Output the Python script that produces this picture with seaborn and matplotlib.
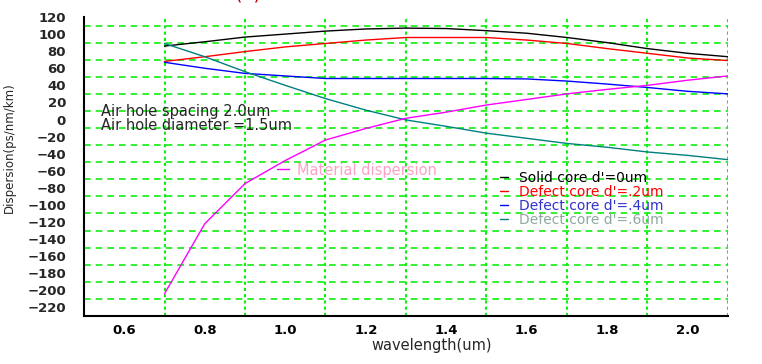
import numpy as np
import pandas as pd
import matplotlib
matplotlib.use("Agg")
import matplotlib.pyplot as plt
import seaborn as sns
from matplotlib.lines import Line2D

wavelength = [0.7, 0.8, 0.9, 1.0, 1.1, 1.2, 1.3, 1.4, 1.5, 1.6, 1.7, 1.8, 1.9, 2.0, 2.1]
solid_core = [86, 91, 96.5, 100, 103.5, 106, 107, 106.5, 104, 101, 96, 90, 83, 77.5, 73.5]
defect_02 = [68, 73.5, 79.5, 85, 89, 93, 96, 96, 96, 93, 89, 83, 77.5, 72, 69]
defect_04 = [67, 60, 54, 51, 48, 48, 48, 48, 48, 47.5, 45, 41.5, 37.5, 33, 30]
defect_06 = [89, 73.5, 56, 40, 24.5, 11, -0.5, -8, -16, -22, -28, -32.5, -38, -42, -47]
material = [-204, -122, -75, -48, -24, -10.5, 1.5, 8.6, 17, 23.5, 30, 35.3, 40, 46, 51]

series_labels = ["Solid core d'=0um", "Defect core d'=.2um", "Defect core d'=.4um", "Defect core d'=.6um"]
series_values = [solid_core, defect_02, defect_04, defect_06]
line_colors = ["#000000", "#ff0000", "#0000ff", "#008080"]
text_colors = ["#000000", "#ff0000", "#3333cc", "#90a8a0"]

sns.set_style("white")
plt.rcParams['font.family'] = ['DejaVu Sans']

fig = plt.figure(figsize=(7.62, 3.64), dpi=100)
ax = fig.add_axes([84 / 762, 48 / 364, 644 / 762, 299 / 364])

for lab, vals, col in zip(series_labels, series_values, line_colors):
    sns.lineplot(x=wavelength, y=vals, color=col, lw=1.0, ax=ax, legend=False)
sns.lineplot(x=wavelength, y=material, color="#ff00ff", lw=1.0, ax=ax, legend=False)

ax.set_xlim(0.5, 2.1)
ax.set_ylim(-230, 120)
ax.set_xticks(np.arange(0.6, 2.01, 0.2))
ax.set_xticklabels([f"{v:.1f}" for v in np.arange(0.6, 2.01, 0.2)])
ax.set_xticks(np.arange(0.7, 2.11, 0.2), minor=True)
ax.set_yticks(np.arange(-220, 121, 20))
ax.set_yticks(np.arange(-210, 111, 20), minor=True)

ax.tick_params(axis='x', which='major', direction='in', length=4, width=1, pad=6,
               labelsize=9.5, colors='black')
ax.tick_params(axis='x', which='minor', direction='out', length=3, width=1)
ax.tick_params(axis='y', which='major', direction='out', length=10, width=1, pad=3,
               labelsize=9.5)
ax.tick_params(axis='y', which='minor', direction='out', length=6, width=1)
for t in ax.get_xticklabels() + ax.get_yticklabels():
    t.set_fontweight('bold')

for s in ['top', 'right']:
    ax.spines[s].set_visible(False)
for s in ['left', 'bottom']:
    ax.spines[s].set_color('black')
    ax.spines[s].set_linewidth(1.5)

ax.grid(False)
ax.grid(True, which='minor', axis='x', color='#11ee11', linestyle=(0, (1.5, 1.5)), lw=1.5)
ax.grid(True, which='minor', axis='y', color='#11ee11', linestyle=(0, (4, 3)), lw=1.2)
ax.set_axisbelow(True)

ax.set_xlabel("wavelength(um)", fontsize=10.5)
ax.xaxis.set_label_coords(0.54, -0.075)
ax.set_ylabel("Dispersion(ps/nm/km)", fontsize=8.5)
ax.yaxis.set_label_coords(-0.1056, 0.562)

ax.text(0.541, 9, "Air hole spacing 2.0um", fontsize=10.5, va='center', ha='left')
ax.text(0.541, -7, "Air hole diameter =1.5um", fontsize=10.5, va='center', ha='left')

mat_handle = [Line2D([], [], color="#ff00ff", lw=1.0)]
leg1 = ax.legend(mat_handle, ["Material dispersion"], loc='center left',
                 bbox_to_anchor=((277 - 84) / 644, (316 - 170) / 299), frameon=False,
                 handlelength=0.8, handletextpad=0.6, borderpad=0, borderaxespad=0,
                 fontsize=10.5, labelcolor=["#ffa0c8"])
ax.add_artist(leg1)

handles = [Line2D([], [], color=c, lw=1.0) for c in line_colors]
leg2 = ax.legend(handles, series_labels, loc='upper left',
                 bbox_to_anchor=((500 - 84) / 644, (316 - 171) / 299), frameon=False,
                 handlelength=0.6, handletextpad=0.8, borderpad=0, borderaxespad=0,
                 labelspacing=0.0, fontsize=10, labelcolor=text_colors)

fig.text(248 / 762, 1 + 1 / 364, "(a)", color="#c00000", fontsize=14,
         ha='center', va='baseline')

fig.savefig("out.png", dpi=100)
